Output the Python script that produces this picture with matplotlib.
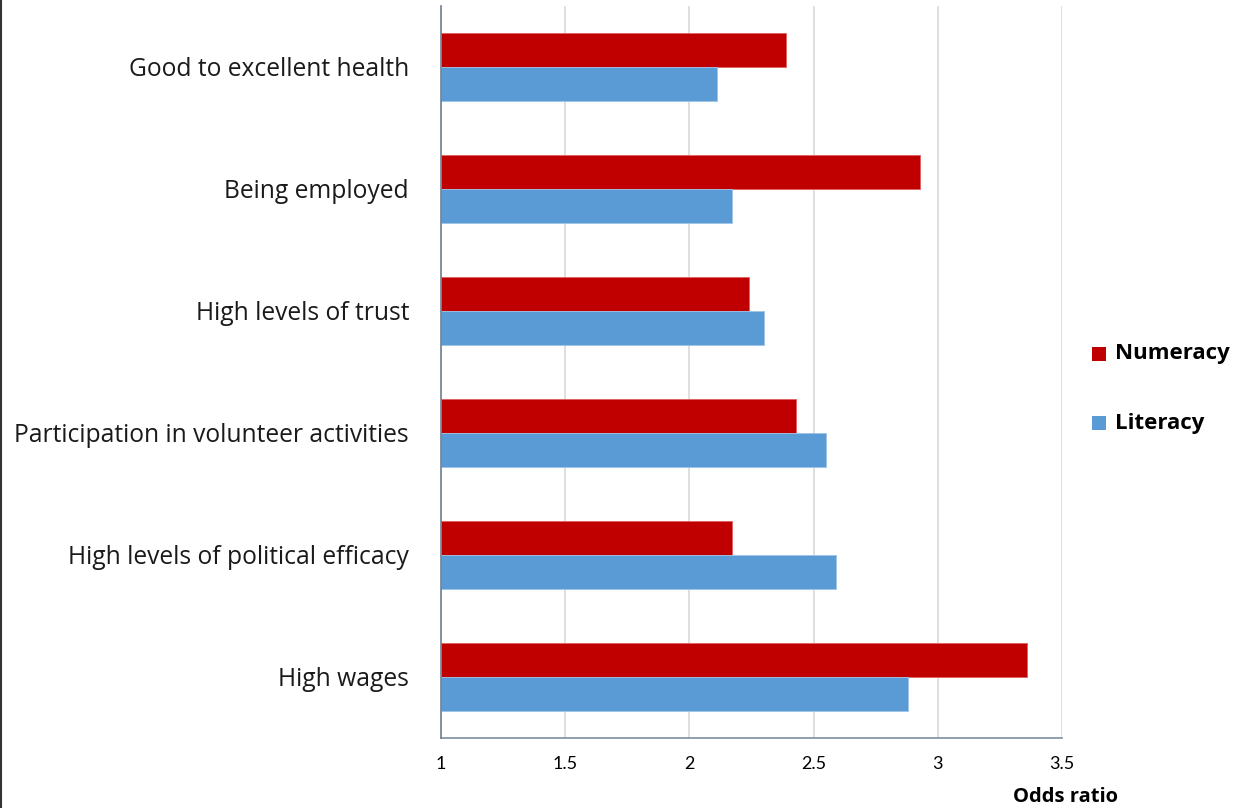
import matplotlib
matplotlib.use("Agg")
import matplotlib.pyplot as plt
import numpy as np

# Outcomes and odds ratios for the two skill domains
outcomes = [
    "Good to excellent health",
    "Being employed",
    "High levels of trust",
    "Participation in volunteer activities",
    "High levels of political efficacy",
    "High wages",
]
numeracy = [2.39, 2.93, 2.24, 2.43, 2.17, 3.36]
literacy = [2.11, 2.17, 2.30, 2.55, 2.59, 2.88]
x_ticks = [1, 1.5, 2, 2.5, 3, 3.5]
x_tick_labels = ["1", "1.5", "2", "2.5", "3", "3.5"]

RED = "#C00000"
BLUE = "#5B9BD5"

fig = plt.figure(figsize=(12.36, 8.08), dpi=100)
ax = fig.add_axes([441 / 1236, 1 - 738 / 808, (1062 - 441) / 1236, (738 - 6) / 808])

y = np.arange(len(outcomes))
h = 0.28
base = 1.0
ax.barh(y - h / 2, np.array(numeracy) - base, left=base, height=h, color=RED,
        edgecolor="#E06060", linewidth=0.6, label="Numeracy", zorder=3)
ax.barh(y + h / 2, np.array(literacy) - base, left=base, height=h, color=BLUE,
        edgecolor="#9CC3E6", linewidth=0.6, label="Literacy", zorder=3)

ax.set_xlim(1, 3.5)
ax.set_ylim(len(outcomes) - 0.5, -0.5)
ax.set_xticks(x_ticks)
ax.set_xticklabels(x_tick_labels, fontsize=13, family="Lato")
ax.set_yticks(y)
ax.set_yticklabels(outcomes, fontsize=17.7, family="Open Sans", color="#1A1A1A")
ax.tick_params(axis="both", length=0)
ax.tick_params(axis="x", pad=13)
ax.tick_params(axis="y", pad=23)

ax.grid(axis="x", color="#D9D9D9", linewidth=1.2, zorder=0)
for side in ["top", "right"]:
    ax.spines[side].set_visible(False)
ax.spines["left"].set_color("#6E7F95")
ax.spines["left"].set_linewidth(1.2)
ax.spines["bottom"].set_color("#7F8CA0")
ax.spines["bottom"].set_linewidth(1.2)
ax.spines["left"].set_zorder(4)

fig.text(1118 / 1236, 1 - 797 / 808, "Odds ratio", ha="right", va="center",
         fontsize=14.5, fontweight="bold", family="Open Sans")

# Legend drawn as markers and labels at the right of the plot
for label, color, ypx in [("Numeracy", RED, 354), ("Literacy", BLUE, 423)]:
    fig.patches.append(matplotlib.patches.Rectangle(
        (1092 / 1236, 1 - (ypx + 7) / 808), 14 / 1236, 14 / 808,
        transform=fig.transFigure, facecolor=color, edgecolor="none"))
    fig.text(1115 / 1236, 1 - ypx / 808, label, ha="left", va="center",
             fontsize=16, fontweight="bold", family="Open Sans")

# Frame line on the left edge
fig.add_artist(matplotlib.lines.Line2D([1.5 / 1236, 1.5 / 1236], [0, 1],
               transform=fig.transFigure, color="#333333", linewidth=1.5))

fig.savefig("out.png", dpi=100)
